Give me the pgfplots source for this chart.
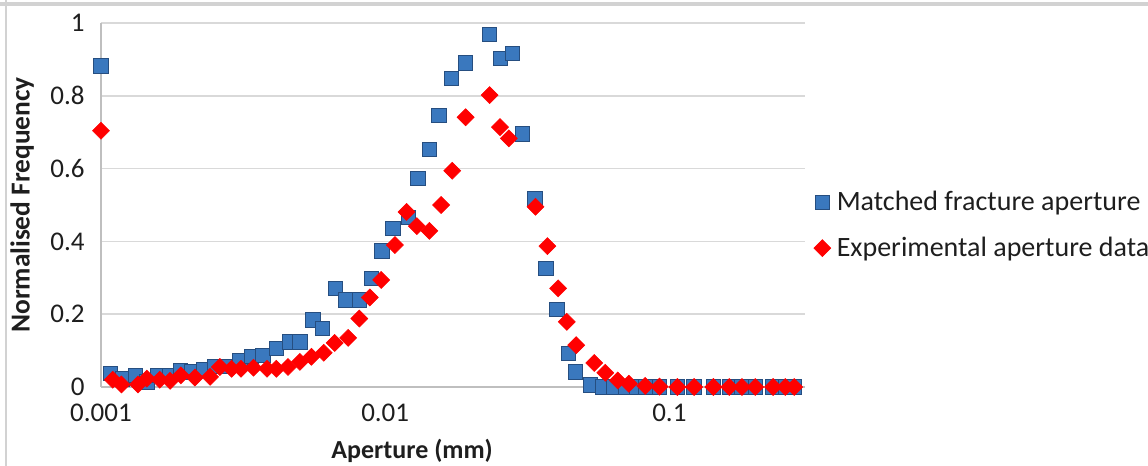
\documentclass[border=0pt]{standalone}
\usepackage{pgfplots}
\pgfplotsset{compat=1.18}
\usepackage{fontspec}
\setmainfont{Carlito}
\definecolor{mblue}{RGB}{58,120,190}
\definecolor{mbluedark}{RGB}{38,78,128}
\definecolor{gridc}{RGB}{217,217,217}
\definecolor{axc}{RGB}{191,191,191}
\definecolor{txt}{RGB}{30,30,30}
\begin{document}
\begin{tikzpicture}
\begin{axis}[
  scale only axis,
  width=352pt, height=182pt,
  at={(0,0)}, anchor=south west,
  xmode=log,
  xmin=0.001, xmax=0.3,
  ymin=0, ymax=1,
  axis x line=bottom, axis y line=left,
  axis line style={axc, line width=0.8pt, -},
  xtick={0.001,0.01,0.1},
  xticklabels={0.001,0.01,0.1},
  minor xtick={},
  ytick={0,0.2,0.4,0.6,0.8,1},
  yticklabels={0,0.2,0.4,0.6,0.8,1},
  ymajorgrids,
  grid style={gridc, line width=0.8pt},
  major tick length=0pt,
  tick style={draw=none},
  /pgf/number format/assume math mode=true,
  ticklabel style={font=\fontsize{13.5}{15}\selectfont, text=txt, inner sep=0pt},
  xticklabel style={yshift=-8.5pt},
  yticklabel style={xshift=-8pt},
  xlabel={\textbf{Aperture (mm)}},
  ylabel={\textbf{Normalised Frequency}},
  xlabel style={font=\fontsize{13}{15}\selectfont, text=txt,
    at={(axis description cs:0.442,0)}, anchor=center, yshift=-32pt},
  ylabel style={font=\fontsize{13.7}{15}\selectfont, text=txt,
    at={(axis description cs:-0.112,0.5)}, anchor=center},
  clip=false,
  legend style={draw=none, fill=none, font=\fontsize{14}{16}\selectfont, text=txt,
    at={(axis description cs:1.012,0.444)}, anchor=west,
    row sep=7.5pt, inner sep=0pt,
    /tikz/every odd column/.append style={column sep=1pt}},
  legend cell align=left,
]
\addplot[only marks, mark=square*, mark size=3.6pt,
  mark options={fill=mblue, draw=mbluedark, line width=0.5pt}] table {
x y
0.001 0.882
0.00108 0.037
0.00119 0.022
0.00132 0.032
0.00145 0.014
0.00158 0.032
0.00174 0.032
0.00190 0.046
0.00209 0.041
0.00229 0.048
0.00252 0.057
0.00277 0.057
0.00308 0.072
0.00339 0.083
0.00372 0.087
0.00415 0.106
0.00460 0.124
0.00501 0.124
0.00558 0.184
0.00601 0.161
0.00670 0.271
0.00729 0.239
0.00814 0.239
0.00894 0.298
0.00975 0.374
0.01066 0.436
0.01205 0.466
0.01304 0.573
0.01431 0.653
0.01548 0.746
0.01711 0.848
0.01919 0.890
0.02330 0.968
0.02546 0.903
0.02805 0.917
0.03048 0.695
0.03365 0.518
0.03678 0.326
0.04027 0.213
0.04418 0.092
0.04680 0.041
0.0529 0.005
0.0582 0
0.0638 0
0.0700 0
0.0765 0
0.0822 0
0.0923 0
0.1067 0
0.1222 0
0.1428 0
0.1625 0
0.1800 0
0.2005 0
0.2317 0
0.2557 0
0.2748 0
};
\addlegendentry{Matched fracture aperture}
\addplot[only marks, mark=square*, mark size=3pt,
  mark options={fill=red, draw=red, line width=0.3pt, rotate=45}] table {
x y
0.001 0.704
0.00110 0.020
0.00118 0.007
0.00135 0.007
0.00145 0.023
0.00161 0.020
0.00175 0.017
0.00191 0.032
0.00214 0.026
0.00242 0.028
0.00262 0.055
0.00288 0.050
0.00311 0.050
0.00344 0.053
0.00384 0.050
0.00414 0.050
0.00455 0.055
0.00501 0.069
0.00550 0.083
0.00608 0.094
0.00664 0.121
0.00741 0.135
0.00811 0.188
0.00883 0.246
0.00968 0.294
0.01082 0.390
0.01189 0.481
0.01292 0.442
0.01431 0.429
0.01573 0.500
0.01721 0.594
0.01919 0.741
0.02330 0.802
0.02535 0.714
0.02723 0.683
0.03380 0.495
0.03723 0.387
0.04060 0.271
0.04355 0.179
0.04700 0.115
0.0544 0.066
0.0595 0.039
0.0658 0.018
0.0720 0.009
0.0822 0.003
0.0923 0.001
0.1067 0
0.1222 0
0.1428 0
0.1625 0
0.1800 0
0.2005 0
0.2317 0
0.2557 0
0.2748 0
};
\addlegendentry{Experimental aperture data}
\end{axis}
\draw[gray!35, line width=2pt] (-50.5pt,191.5pt) -- (523.5pt,191.5pt);
\draw[gray!35, line width=0.6pt] (-47.5pt,193.5pt) -- (-47.5pt,-39.5pt);
\pgfresetboundingbox
\path (-50.5pt,-39.5pt) rectangle (523.5pt,193.5pt);
\end{tikzpicture}
\end{document}
